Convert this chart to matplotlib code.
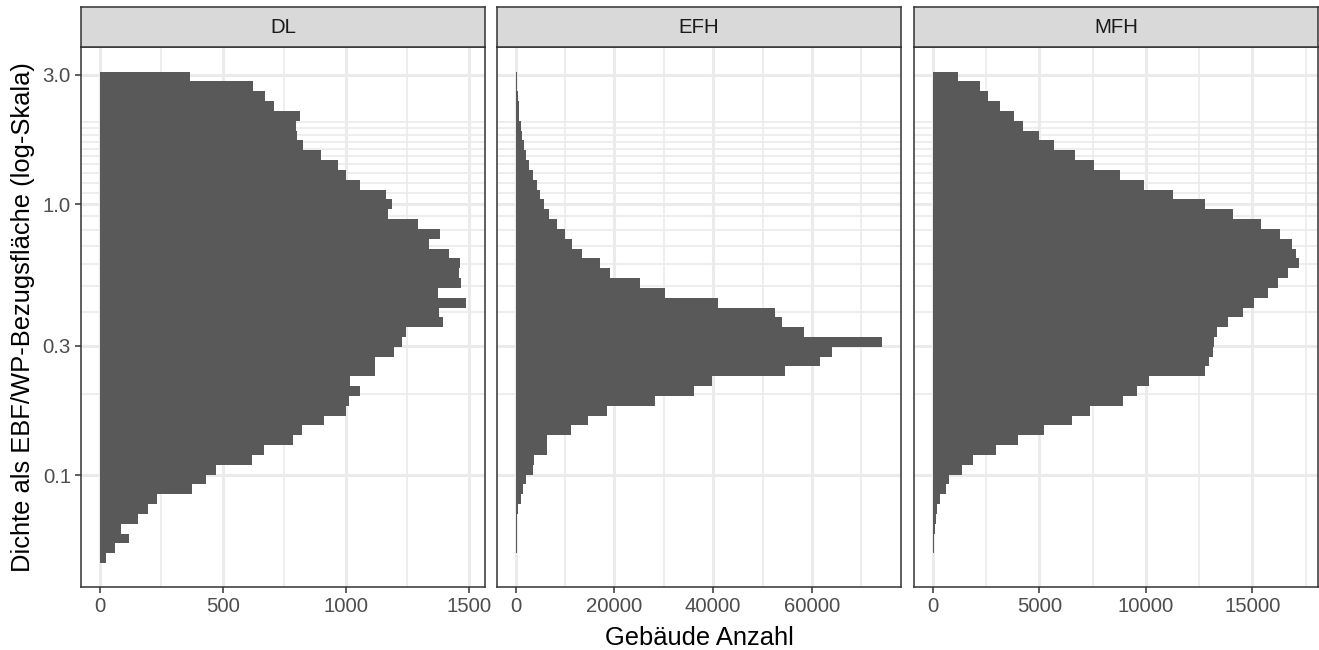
import numpy as np
import matplotlib
matplotlib.use("Agg")
import matplotlib.pyplot as plt
from matplotlib.ticker import FixedLocator, NullFormatter

plt.rcParams["font.family"] = ["Liberation Sans", "DejaVu Sans"]

# Histogram counts per log-bin, listed from the top bin (~3.08) down to the lowest (~0.047)
facets = ["DL", "EFH", "MFH"]
bin_log_hi = 0.4881    # log10 of upper edge of the top bin
bin_log_lo = -1.3242   # log10 of lower edge of the bottom bin
n_bins = 50

counts_dl = [367, 624, 674, 708, 814, 799, 804, 826, 898, 969,
             1002, 1060, 1164, 1189, 1171, 1293, 1382, 1338, 1419, 1466,
             1460, 1469, 1376, 1491, 1378, 1396, 1246, 1230, 1196, 1121,
             1121, 1016, 1060, 1013, 1003, 913, 821, 787, 668, 620,
             475, 433, 374, 234, 195, 156, 85, 119, 62, 24]
counts_efh = [200, 270, 400, 600, 740, 1010, 1280, 1680, 2150, 2630,
              3570, 4240, 4920, 5790, 6800, 8280, 9970, 11450, 13470, 17040,
              19190, 25250, 30230, 40940, 52520, 53940, 58310, 74270, 64030, 61610,
              54610, 39730, 36090, 28150, 18520, 14680, 11180, 6260, 6400, 3640,
              3430, 2150, 1410, 1140, 420, 360, 240, 200, 180, 160]
counts_mfh = [1200, 2230, 2600, 3150, 3820, 4240, 4970, 5690, 6690, 7580,
              8810, 9920, 11270, 12780, 14090, 15420, 16280, 16850, 17060, 17200,
              16670, 16200, 15730, 15080, 14560, 13830, 13360, 13200, 13170, 12970,
              12770, 10130, 9570, 8920, 7390, 6520, 5220, 3990, 2980, 1870,
              1360, 780, 620, 360, 200, 140, 95, 60, 45, 30]
all_counts = [counts_dl, counts_efh, counts_mfh]

x_major = [[0, 500, 1000, 1500],
           [0, 20000, 40000, 60000],
           [0, 5000, 10000, 15000]]
x_minor = [[250, 750, 1250],
           [10000, 30000, 50000, 70000],
           [2500, 7500, 12500, 17500]]

y_major = [0.1, 0.3, 1.0, 3.0]
y_major_labels = ["0.1", "0.3", "1.0", "3.0"]
y_minor = [round(v, 1) for v in np.arange(0.1, 2.01, 0.1)]
y_lim = (0.03867, 3.794)

# Layout (figure pixels)
W, H = 1319, 650
panel_left = [81.3, 497.3, 914.3]
panel_w = 403.4
panel_top, panel_bot = 47.0, 587.0
strip_top = 7.3

grid_col = "#EBEBEB"
frame_col = "#333333"
bar_col = "#595959"
tick_col = "#4D4D4D"

fig = plt.figure(figsize=(W / 100, H / 100), dpi=100)

edges = np.linspace(bin_log_hi, bin_log_lo, n_bins + 1)
upper = 10 ** edges[:-1]
lower = 10 ** edges[1:]

for i, name in enumerate(facets):
    ax = fig.add_axes([panel_left[i] / W, 1 - panel_bot / H,
                       panel_w / W, (panel_bot - panel_top) / H])
    counts = np.array(all_counts[i])
    ax.barh(lower, counts, height=upper - lower, align="edge",
            color=bar_col, linewidth=0)
    ax.set_yscale("log")
    ax.set_ylim(*y_lim)
    cmax = counts.max()
    ax.set_xlim(-0.05 * cmax, 1.05 * cmax)

    ax.yaxis.set_major_locator(FixedLocator(y_major))
    ax.yaxis.set_minor_locator(FixedLocator(y_minor))
    ax.yaxis.set_minor_formatter(NullFormatter())
    ax.set_xticks(x_major[i])
    ax.set_xticklabels([str(v) for v in x_major[i]])
    ax.set_xticks(x_minor[i], minor=True)

    ax.set_axisbelow(True)
    ax.grid(which="major", color=grid_col, linewidth=2.2)
    ax.grid(which="minor", color=grid_col, linewidth=1.2)

    ax.tick_params(which="minor", length=0)
    ax.tick_params(which="major", length=4.5, width=1.1, color=frame_col,
                   labelsize=14.7, labelcolor=tick_col, pad=3)
    if i == 0:
        ax.set_yticklabels(y_major_labels)
    else:
        ax.tick_params(axis="y", which="both", left=False, labelleft=False)

    for sp in ax.spines.values():
        sp.set_color(frame_col)
        sp.set_linewidth(1.1)

    # facet strip
    sax = fig.add_axes([panel_left[i] / W, 1 - panel_top / H,
                        panel_w / W, (panel_top - strip_top) / H])
    sax.set_facecolor("#D9D9D9")
    sax.set_xticks([])
    sax.set_yticks([])
    for sp in sax.spines.values():
        sp.set_color(frame_col)
        sp.set_linewidth(1.1)
    sax.text(0.5, 0.5, name, ha="center", va="center", fontsize=14.7,
             color="#1A1A1A", transform=sax.transAxes)

fig.text(699.5 / W, (H - 645) / H, "Gebäude Anzahl", ha="center",
         va="baseline", fontsize=18.4, color="black")
fig.text(23 / W, 1 - (panel_top + panel_bot) / 2 / H,
         "Dichte als EBF/WP-Bezugsfläche (log-Skala)", ha="center",
         va="center", rotation=90, fontsize=18.4, color="black")

fig.savefig("out.png", dpi=100, facecolor="white")
